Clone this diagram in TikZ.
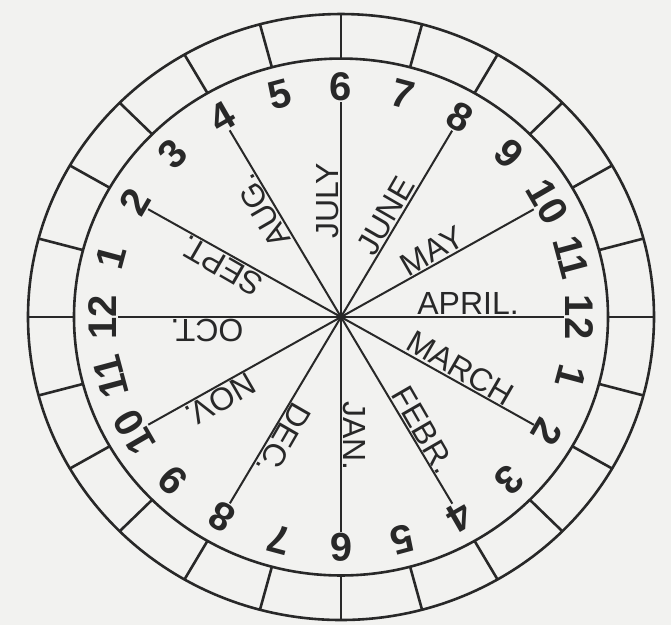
\documentclass[tikz,border=0pt]{standalone}
\usepackage{fontspec}
\setmainfont{Liberation Sans}
\definecolor{ink}{RGB}{40,40,40}
\definecolor{paper}{RGB}{242,242,240}
\tikzset{
  ringLine/.style={draw=ink,line width=2.6pt},
  spokeLine/.style={draw=ink,line width=2pt},
  hourNum/.style={inner sep=1pt,text=ink,font=\fontsize{40}{40}\selectfont\bfseries},
  monthLbl/.style={anchor=south,inner sep=2pt,text=ink,font=\fontsize{32}{32}\selectfont}
}

\begin{document}
\begin{tikzpicture}[x=1pt,y=0.968pt]
  \fill[paper] (-341,-318.2) rectangle (330,327.5);
  \coordinate (c) at (0,0);

  % the two rims and the 24 boxes between them
  \draw[ringLine] (c) circle (313);
  \draw[ringLine] (c) circle (267);
  \foreach \a in {0,15,...,345}
    \draw[ringLine] (\a:267) -- (\a:313);

  % hour numbers, tops pointing outwards
  \foreach \k/\t [evaluate=\k as \a using 15*\k] in
      {0/12,1/11,2/10,3/9,4/8,5/7,6/6,7/5,8/4,9/3,10/2,11/1,
       12/12,13/11,14/10,15/9,16/8,17/7,18/6,19/5,20/4,21/3,22/2,23/1}
    \node[hourNum,rotate=\a-90] (n\k) at (\a:238) {\t};

  % spokes
  \foreach \k in {0,2,...,22}
    \draw[spokeLine] (c) -- (n\k);
  \fill[ink] (c) circle (3);

  % months along the spokes
  \node[monthLbl,rotate=0] (apr) at (0:127) {APRIL.};
  \node[monthLbl,rotate=30] (may) at (30:113) {MAY};
  \node[monthLbl,rotate=60] (jun) at (60:113) {JUNE};
  \node[monthLbl,rotate=90] (jul) at (90:120) {JULY};
  \node[monthLbl,rotate=120] (aug) at (120:134) {AUG.};
  \node[monthLbl,rotate=150] (sep) at (150:130) {SEPT.};
  \node[monthLbl,rotate=180] (oct) at (180:134) {OCT.};
  \node[monthLbl,rotate=210] (nov) at (210:147) {NOV.};
  \node[monthLbl,rotate=240] (dec) at (240:138) {DEC.};
  \node[monthLbl,rotate=270] (jan) at (270:123) {JAN.};
  \node[monthLbl,rotate=300] (feb) at (300:142) {FEBR.};
  \node[monthLbl,rotate=330] (mar) at (330:130) {MARCH};
\end{tikzpicture}
\end{document}
